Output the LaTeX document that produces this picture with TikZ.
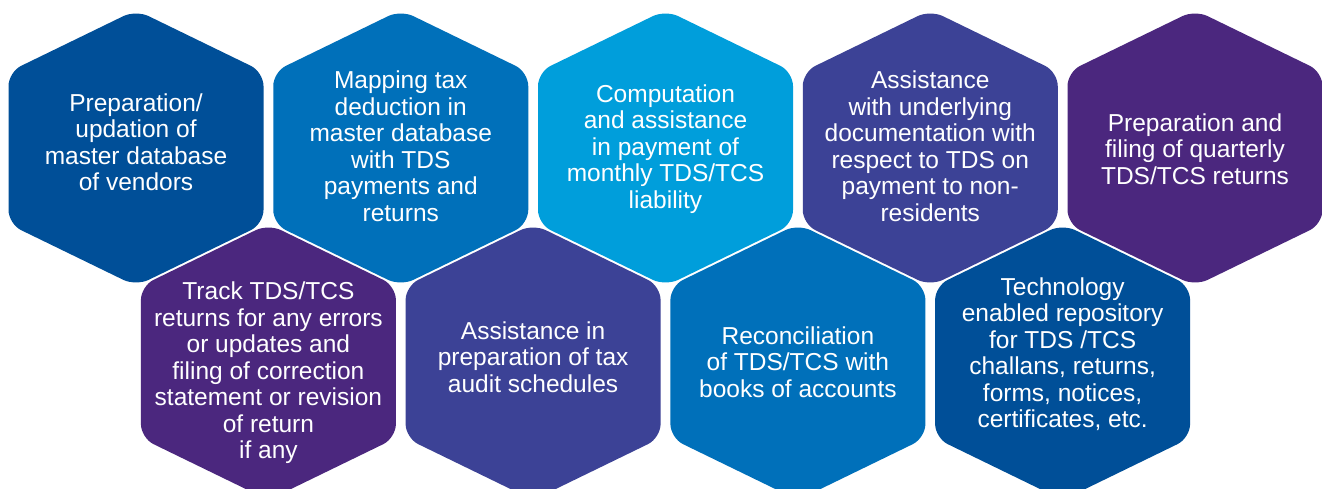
\documentclass[tikz,border=0pt]{standalone}
\usepackage{fontspec}
\setmainfont{Liberation Sans}
\definecolor{cdark}{RGB}{0,79,152}
\definecolor{cmid}{RGB}{0,112,186}
\definecolor{clight}{RGB}{0,158,219}
\definecolor{cviolet}{RGB}{60,66,150}
\definecolor{cpurple}{RGB}{75,39,126}
\tikzset{
  hexfill/.style={rounded corners=14pt},
  txt/.style={text=white, align=center, inner sep=0pt, font=\fontsize{24.5}{26.5}\selectfont}
}
\newcommand\hexcell[3]{%
  \fill[hexfill,#3,shift={(#1,#2)}] (0,-138) -- (127.5,-76) -- (127.5,76) -- (0,138) -- (-127.5,76) -- (-127.5,-76) -- cycle;}
\begin{document}
\begin{tikzpicture}[x=1pt,y=-1pt]
\useasboundingbox[fill=white] (0,0) rectangle (1322,488);
% top row
\hexcell{136}{148}{cdark}
\hexcell{400.75}{148}{cmid}
\hexcell{665.5}{148}{clight}
\hexcell{930.25}{148}{cviolet}
\hexcell{1195}{148}{cpurple}
% bottom row
\hexcell{268.4}{362}{cpurple}
\hexcell{533.1}{362}{cviolet}
\hexcell{797.9}{362}{cmid}
\hexcell{1062.6}{362}{cdark}
% texts
\node[txt] (t1) at (136,142) {Preparation/\\updation of\\master database\\of vendors};
\node[txt] (t2) at (400.75,146) {Mapping tax\\deduction in\\master database\\with TDS\\payments and\\returns};
\node[txt] (t3) at (665.5,149) {Computation\\and assistance\\in payment of\\monthly TDS/TCS\\liability};
\node[txt] (t4) at (930.25,146) {Assistance\\with underlying\\documentation with\\respect to TDS on\\payment to non-\\residents};
\node[txt] (t5) at (1195,149) {Preparation and\\filing of quarterly\\TDS/TCS returns};
\node[txt] (t6) at (268.4,373) {Track TDS/TCS\\returns for any errors\\or updates and\\filing of correction\\statement or revision\\of return\\if any};
\node[txt] (t7) at (533.1,357) {Assistance in\\preparation of tax\\audit schedules};
\node[txt] (t8) at (797.9,362) {Reconciliation\\of TDS/TCS with\\books of accounts};
\node[txt] (t9) at (1062.6,354) {Technology\\enabled repository\\for TDS /TCS\\challans, returns,\\forms, notices,\\certificates, etc.};
\end{tikzpicture}
\end{document}
